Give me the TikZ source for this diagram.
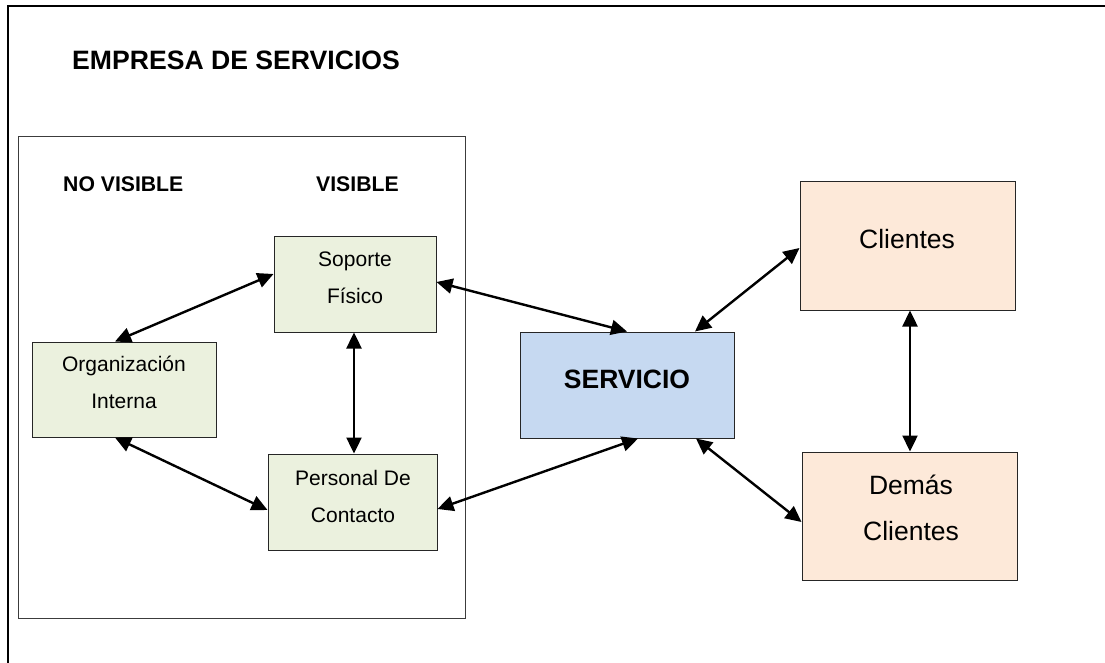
\documentclass[tikz,border=0pt]{standalone}
\usepackage{fontspec}
\setmainfont{Liberation Sans}
\usetikzlibrary{arrows.meta}

\definecolor{greenfill}{HTML}{EBF1DE}
\definecolor{bluefill}{HTML}{C6D9F1}
\definecolor{peachfill}{HTML}{FDE9D9}
\definecolor{edge}{HTML}{262626}
\definecolor{panel}{HTML}{3C3C3C}

\tikzset{
  box/.style={draw=edge, line width=1pt, inner sep=0pt},
  smallbox/.style={box, fill=greenfill},
  servbox/.style={box, fill=bluefill},
  clientbox/.style={box, fill=peachfill},
  smalltxt/.style={inner sep=0pt, align=center, font=\fontsize{21}{37}\selectfont},
  bigtxt/.style={inner sep=0pt, align=center, font=\fontsize{26.5}{46}\selectfont},
  headtxt/.style={inner sep=0pt, anchor=base west, font=\bfseries\fontsize{21.2}{25}\selectfont},
  link/.style={line width=2.4pt, {Triangle[length=16pt,width=15pt]}-{Triangle[length=16pt,width=15pt]}},
}

\begin{document}
\begin{tikzpicture}[x=1pt, y=-1pt]
  \useasboundingbox (0,0) rectangle (1105,663);

  % outer company frame (only its top and left edges fall on the page)
  \draw[line width=2pt] (8,663) -- (8,6.5) -- (1105,6.5);
  \node[inner sep=0pt, anchor=base west, font=\bfseries\fontsize{26.6}{30}\selectfont]
    (title) at (72,69.3) {EMPRESA DE SERVICIOS};

  % internal area
  \draw[panel, line width=1pt] (18,137) rectangle (465,618);
  \node[headtxt] (novis) at (63,192) {NO VISIBLE};
  \node[headtxt] (vis) at (316,192) {VISIBLE};

  % boxes
  \node[smallbox, minimum width=162pt, minimum height=96pt] (sop) at (355,284) {};
  \node[smallbox, minimum width=184pt, minimum height=95pt] (org) at (124,389.5) {};
  \node[smallbox, minimum width=169pt, minimum height=96pt] (pers) at (352.5,502) {};
  \node[servbox, minimum width=214pt, minimum height=106pt] (serv) at (627,385) {};
  \node[clientbox, minimum width=215pt, minimum height=128pt] (cli) at (907.5,246) {};
  \node[clientbox, minimum width=215pt, minimum height=128pt] (dem) at (909.5,516) {};

  % box texts
  \node[smalltxt] (soptxt) at (355,278) {Soporte\\Físico};
  \node[smalltxt] (orgtxt) at (124,382.5) {Organización\\Interna};
  \node[smalltxt] (perstxt) at (353,496) {Personal De\\Contacto};
  \node[inner sep=0pt, font=\bfseries\fontsize{26.5}{30}\selectfont] (servtxt) at (627,379) {SERVICIO};
  \node[bigtxt] (clitxt) at (907,239.5) {Clientes};
  \node[bigtxt] (demtxt) at (911,508) {Demás\\Clientes};

  % connectors
  \draw[link] ([xshift=-9pt]org.north) -- ([yshift=10pt]sop.west);
  \draw[link] ([xshift=-1pt]sop.south) -- ([xshift=1.5pt]pers.north);
  \draw[link] ([xshift=-9pt]org.south) -- ([yshift=-8pt]pers.west);
  \draw[link] ([yshift=2pt]sop.east) -- (serv.north);
  \draw[link] ([yshift=-7pt]pers.east) -- ([xshift=11pt]serv.south);
  \draw[link] ([xshift=68pt]serv.north) -- ([yshift=-2pt]cli.west);
  \draw[link] ([xshift=69pt]serv.south) -- ([yshift=-6pt]dem.west);
  \draw[link] ([xshift=2.5pt]cli.south) -- ([xshift=0.5pt]dem.north);
\end{tikzpicture}
\end{document}
